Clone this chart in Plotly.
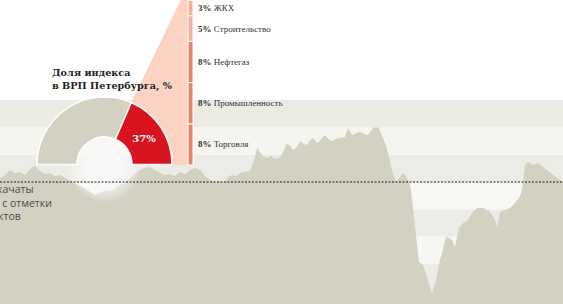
import math
import plotly.graph_objects as go

W, H = 563, 304

# ---------------- data ----------------
# time positions (trading-period index) and index level
t = [0, 5, 10, 15, 20, 25, 30, 35, 40, 45, 50, 55, 60, 65, 70, 75, 80, 85, 90, 95,
     100, 105, 110, 115, 120, 125, 130, 135, 140, 145, 150, 155, 160, 165, 170, 175,
     180, 185, 190, 195, 200, 205, 210, 215, 220, 225, 228, 232, 236, 240, 245, 250,
     254, 257, 260, 263, 267, 271, 275, 280, 284, 287, 290, 293, 297, 300, 304, 307,
     310, 313, 316, 318, 322, 325, 328, 332, 336, 340, 345, 348, 352, 356, 360, 364,
     368, 373, 376, 379, 383, 386, 388, 392, 396, 400, 403, 406, 409, 411, 415, 419,
     423, 427, 432, 436, 440, 443, 446, 449, 452, 455, 459, 463, 468, 472, 477, 483,
     490, 495, 497, 500, 505, 510, 515, 520, 522, 525, 528, 533, 538, 543, 550, 557, 563]
index_values = [1015, 1026, 1044, 1033, 1037, 1026, 1048, 1059, 1040, 1029, 1033, 1022,
                1026, 1015, 1007, 996, 985, 978, 963, 952, 960, 971, 967, 978, 989, 1000,
                1015, 1029, 1044, 1051, 1055, 1044, 1033, 1026, 1029, 1022, 1037, 1029,
                1044, 1051, 1044, 1022, 1007, 1000, 1004, 1000, 1018, 1026, 1022, 1033,
                1037, 1040, 1081, 1125, 1110, 1095, 1088, 1095, 1084, 1088, 1117, 1143,
                1132, 1117, 1128, 1150, 1139, 1136, 1154, 1161, 1147, 1143, 1161, 1172,
                1158, 1150, 1158, 1161, 1165, 1198, 1172, 1179, 1183, 1176, 1172, 1198,
                1201, 1198, 1161, 1132, 1106, 1044, 1000, 1018, 1033, 1022, 1000, 971,
                850, 707, 696, 652, 593, 641, 714, 751, 802, 795, 788, 762, 832, 850,
                861, 886, 905, 905, 890, 861, 832, 890, 897, 905, 923, 949, 971, 1062,
                1073, 1062, 1070, 1055, 1037, 1015, 1000]
REFERENCE_LEVEL = 1000
band_levels = [500, 600, 700, 800, 900, 1000, 1100, 1200, 1300]

index_share = 37  # % of Saint Petersburg GRP
sectors = ["Торговля", "Промышленность", "Нефтегаз", "Строительство", "ЖКХ", "Энергетика"]
sector_shares = [8, 8, 8, 5, 3, 3]

title_text = "Доля индекса<br>в ВРП Петербурга, %"
side_text = "качаты<br>\u2002с отметки<br>\u200aктов"

# ---------------- layout geometry ----------------
X_RANGE = [0, W]
Y_RANGE = [553.1, 1666.7]
def py2y(py):
    return Y_RANGE[1] - py * (Y_RANGE[1] - Y_RANGE[0]) / H

CX, CY, R, R_IN = 104.5, 164.5, 67.5, 27.5
BAR_BASE_PX, PCT_PX = 165.0, 5.15
BAR_LEFT, BAR_W = 188.0, 5.0
Y2_RANGE = [-(H - BAR_BASE_PX) / PCT_PX, BAR_BASE_PX / PCT_PX]

fig = go.Figure()

# area
fig.add_trace(go.Scatter(x=t, y=index_values, mode="lines", line=dict(width=0, color="#d3d1c2"),
                         fill="tozeroy", fillcolor="#d3d1c2", hoverinfo="skip", showlegend=False))

# soft glow around the donut hole (stack of faint discs)
for rr in range(36, 18, -2):
    xs, ys = [], []
    for k in range(73):
        a = 2 * math.pi * k / 72
        xs.append(CX + rr * math.cos(a))
        ys.append(py2y(CY + 1 - rr * math.sin(a)))
    fig.add_trace(go.Scatter(x=xs, y=ys, mode="lines", line=dict(width=0), fill="toself",
                             fillcolor="rgba(255,255,255,0.12)", hoverinfo="skip", showlegend=False))

# pink fan from the red wedge to the sector bar
ang = math.pi * index_share / 100
tip = (CX + R * math.cos(ang), CY - R * math.sin(ang))
bar_top_px = BAR_BASE_PX - sum(sector_shares) * PCT_PX
fan_x = [tip[0], BAR_LEFT, BAR_LEFT, CX + R - 1, tip[0]]
fan_y = [py2y(tip[1]), py2y(bar_top_px), py2y(BAR_BASE_PX), py2y(BAR_BASE_PX), py2y(tip[1])]
fig.add_trace(go.Scatter(x=fan_x, y=fan_y, mode="lines", line=dict(width=0), fill="toself",
                         fillcolor="#fcd3c2", hoverinfo="skip", showlegend=False))

# half donut (gray rest, red index share, hidden lower half)
fig.add_trace(go.Pie(values=[100 - index_share, index_share, 100], sort=False,
                     direction="clockwise", rotation=-90, hole=R_IN / R,
                     marker=dict(colors=["#d3d1c2", "#d7141f", "rgba(0,0,0,0)"],
                                 line=dict(color=["white", "white", "rgba(0,0,0,0)"], width=1.5)),
                     text=["", f"{index_share}%", ""], textinfo="text", textposition="inside",
                     insidetextorientation="horizontal",
                     textfont=dict(family="DejaVu Serif", size=10, color="white", weight="bold"),
                     domain=dict(x=[(CX - R) / W, (CX + R) / W], y=[1 - (CY + R) / H, 1 - (CY - R) / H]),
                     hoverinfo="skip", showlegend=False))

# sector bar
bases, acc = [], 0
for v in sector_shares:
    bases.append(acc)
    acc += v
seg_colors = ["#e4846a", "#e4846a", "#e4846a", "#f1b29b", "#f1b29b", "#f1b29b"]
fig.add_trace(go.Bar(x=[BAR_LEFT + BAR_W / 2] * len(sector_shares), y=sector_shares, base=bases,
                     width=BAR_W, marker=dict(color=seg_colors, line=dict(color="white", width=1)),
                     xaxis="x2", yaxis="y2", hoverinfo="skip", showlegend=False))

annotations = []
for name, v, b in zip(sectors, sector_shares, bases):
    annotations.append(dict(x=BAR_LEFT + BAR_W + 3, y=b + v / 2, xref="x2", yref="y2",
                            xanchor="left", yanchor="middle", showarrow=False,
                            text=f"<b>{v}%</b> {name}",
                            font=dict(family="Liberation Serif", size=9, color="#333333")))

annotations.append(dict(x=50 / W, y=1 - 78.5 / H, xref="paper", yref="paper", xanchor="left",
                        yanchor="middle", align="left", showarrow=False, text=f"<b>{title_text}</b>",
                        font=dict(family="DejaVu Serif", size=9.7, color="#1e1e1e")))

annotations.append(dict(x=-4 / W, y=1 - 202.5 / H, xref="paper", yref="paper", xanchor="left",
                        yanchor="middle", align="left", showarrow=False, text=side_text,
                        borderpad=0, font=dict(family="Open Sans", size=10.5, color="#4a4a4a")))

shapes = []
band_cols = ["#f6f6f1", "#ecece6", "#f6f6f2", "#ecece6", "#f7f7f3", "#ecece6", "#f5f5f0", "#ebebe4"]
for i in range(len(band_levels) - 1):
    shapes.append(dict(type="rect", xref="paper", yref="y", x0=0, x1=1,
                       y0=band_levels[i], y1=band_levels[i + 1], fillcolor=band_cols[i],
                       line=dict(width=0), layer="below"))
shapes.append(dict(type="line", xref="paper", yref="y", x0=0, x1=1, y0=REFERENCE_LEVEL,
                   y1=REFERENCE_LEVEL, line=dict(color="#1a1a1a", width=1, dash="2px,1.5px"),
                   layer="above"))

fig.update_layout(
    width=W, height=H, margin=dict(l=0, r=0, t=0, b=0),
    paper_bgcolor="white", plot_bgcolor="white",
    xaxis=dict(range=X_RANGE, visible=False, fixedrange=True),
    yaxis=dict(range=Y_RANGE, visible=False, fixedrange=True),
    xaxis2=dict(range=X_RANGE, visible=False, overlaying="x", fixedrange=True),
    yaxis2=dict(range=Y2_RANGE, visible=False, overlaying="y", fixedrange=True),
    barmode="overlay", showlegend=False,
    annotations=annotations, shapes=shapes,
)

fig.write_html("out.html")
